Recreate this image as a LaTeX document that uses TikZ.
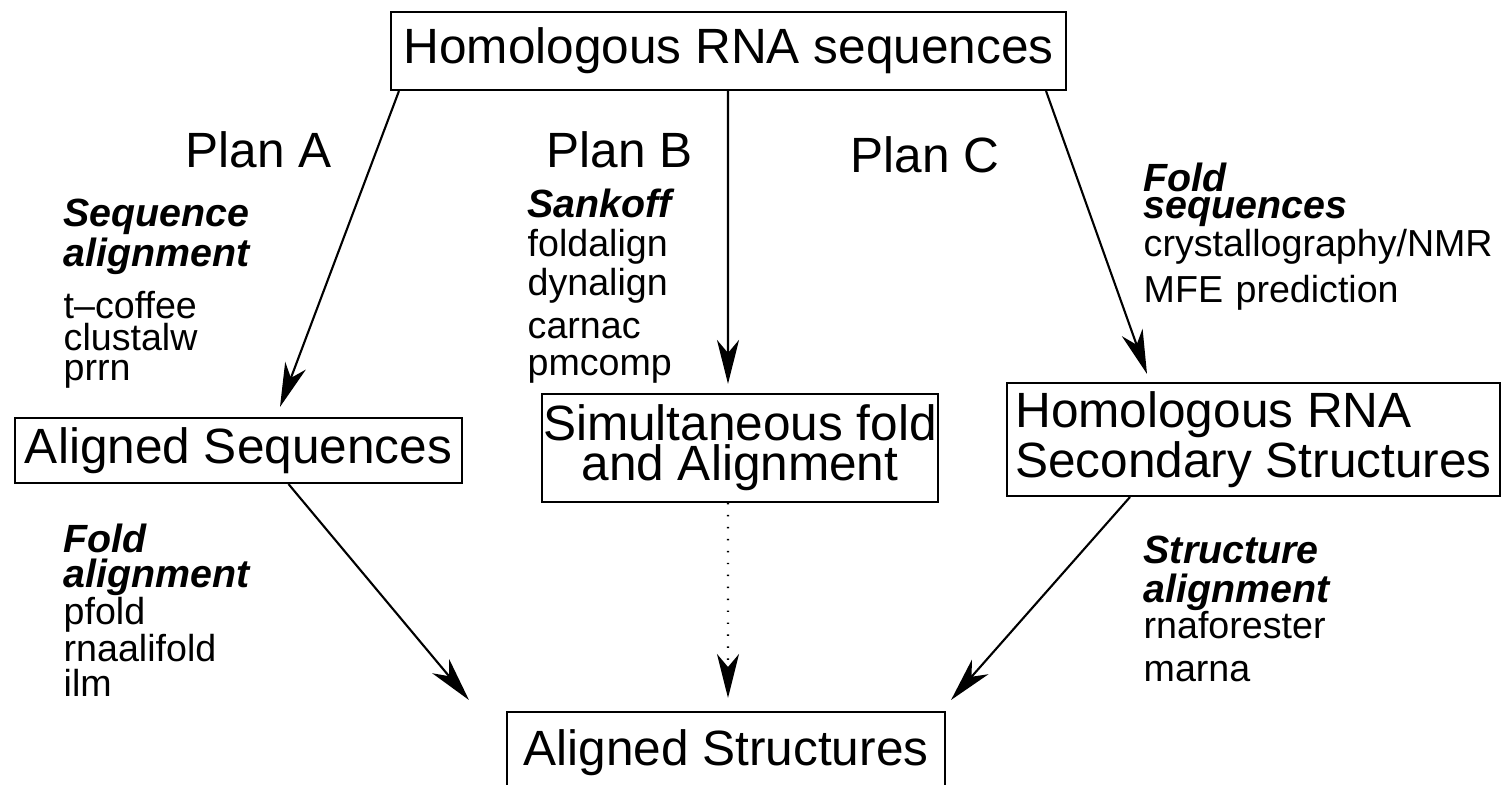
\documentclass[tikz,border=0pt]{standalone}
\usepackage{fontspec}
\setmainfont{Liberation Sans}
\usetikzlibrary{arrows.meta}

\newcommand{\bigfont}{\fontsize{14.1pt}{11.4pt}\selectfont}
\newcommand{\toolfont}{\fontsize{10.7pt}{10pt}\selectfont\lineskiplimit=-1in\relax}
\newcommand{\method}[1]{{\fontsize{11.2pt}{10pt}\selectfont\bfseries\itshape #1}}

\tikzset{
  stage/.style={draw, line width=0.6pt, inner sep=0pt, font=\bigfont, align=center},
  plan/.style={anchor=base west, inner sep=0pt, font=\bigfont},
  tools/.style={anchor=base west, inner sep=0pt, text width=45mm, align=left, font=\toolfont},
  flow/.style={line width=0.6pt, -{Stealth[length=4.4mm, width=2.2mm, inset=1.3mm]}},
}

\begin{document}
\begin{tikzpicture}[x=0.1mm, y=-0.1mm]
  \clip (0,0) rectangle (1504,785);
  \fill[white] (0,0) rectangle (1504,785);

  % Stages
  \node[stage, minimum width=67.5mm, minimum height=7.8mm] (hom) at (728.5,51) {Homologous RNA sequences};
  \node[stage, minimum width=44.7mm, minimum height=6.5mm] (seqs) at (238.5,450.5) {Aligned Sequences};
  \node[stage, minimum width=39.6mm, minimum height=10.8mm] (simul) at (740,448) {Simultaneous fold\\and Alignment};
  \node[stage, align=left, minimum width=49.3mm, minimum height=11.3mm] (sec) at (1253.5,439.5) {Homologous RNA\\Secondary Structures};
  \node[stage, anchor=north, minimum width=43.8mm, minimum height=8.2mm] (struct) at (726,711) {Aligned Structures};

  % Plans
  \node[plan] (planA) at (185,168) {Plan A};
  \node[plan] (planB) at (546,168) {Plan B};
  \node[plan] (planC) at (850,173) {Plan C};

  % Methods and programs
  \node[tools] (seqtools) at (63,227) {\method{Sequence}\\[0.39mm] \method{alignment}\\[1.69mm] t–coffee\\[-0.32mm] clustalw\\[-0.42mm] prrn};
  \node[tools] (pbtools) at (527,218) {\method{Sankoff}\\[0.29mm] foldalign\\[0.39mm] dynalign\\[0.79mm] carnac\\[0.19mm] pmcomp};
  \node[tools] (pctools) at (1143,192) {\method{Fold}\\[-0.82mm] \method{sequences}\\[0.29mm] crystallography/NMR\\[0.99mm] MFE prediction};
  \node[tools] (fatools) at (63,553) {\method{Fold}\\[-0.02mm] \method{alignment}\\[0.19mm] pfold\\[0.09mm] rnaalifold\\[0mm] ilm};
  \node[tools] (satools) at (1143,564) {\method{Structure}\\[0.29mm] \method{alignment}\\[0.09mm] rnaforester\\[0.79mm] marna};

  % Arrows
  \draw[flow] ([xshift=0.9mm]hom.south west) -- ([xshift=4.15mm, yshift=1mm]seqs.north);
  \draw[flow] ([xshift=-0.05mm]hom.south) -- ([xshift=-1.2mm, yshift=0.9mm]simul.north);
  \draw[flow] ([xshift=-2.1mm]hom.south east) -- ([xshift=-10.65mm, yshift=0.8mm]sec.north);
  \draw[flow] ([xshift=5mm]seqs.south) -- ([xshift=-3.7mm, yshift=1.1mm]struct.north west);
  \draw[flow, dash pattern=on 0.4pt off 3pt] ([xshift=-1.2mm]simul.south) -- ([xshift=0.2mm, yshift=1.3mm]struct.north);
  \draw[flow] ([xshift=-12.35mm]sec.south) -- ([xshift=0.5mm, yshift=1.1mm]struct.north east);
\end{tikzpicture}
\end{document}
